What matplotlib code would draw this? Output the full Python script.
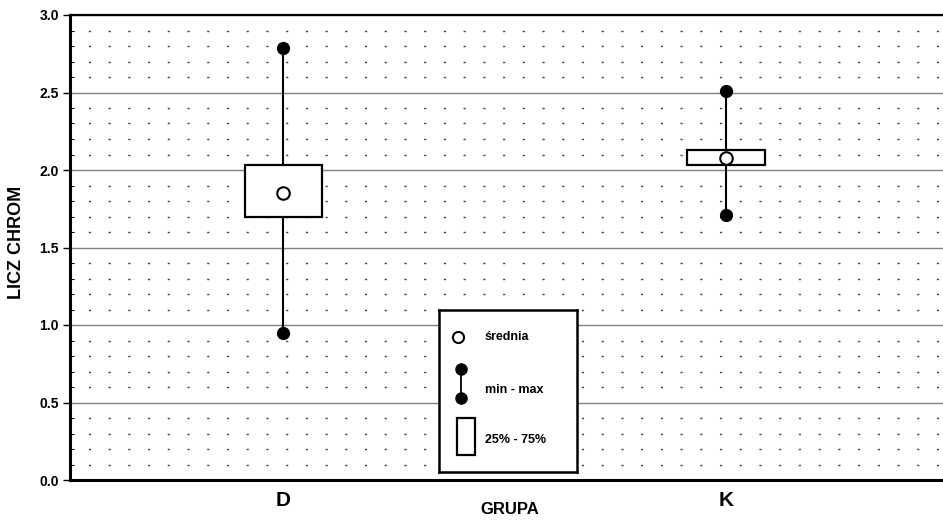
import matplotlib.pyplot as plt
from matplotlib.patches import Rectangle
from matplotlib.ticker import MultipleLocator
from matplotlib.lines import Line2D

plt.rcParams['font.family'] = ['Liberation Sans', 'DejaVu Sans']
plt.rcParams['lines.scale_dashes'] = False

# data
groups = ['D', 'K']
means = [1.85, 2.08]
q25 = [1.70, 2.03]
q75 = [2.03, 2.13]
mins = [0.95, 1.71]
maxs = [2.79, 2.51]

pos = [1, 2]
box_w = 0.174

fig = plt.figure(figsize=(9.43, 5.22), dpi=100)
ax = fig.add_axes([70 / 943, 42 / 522, 873 / 943, 465 / 522])

# grid: solid major lines, dotted minor rows
ax.set_ylim(0, 3.0)
ax.set_xlim(0.519, 2.49)
ax.yaxis.set_major_locator(MultipleLocator(0.5))
ax.yaxis.set_minor_locator(MultipleLocator(0.1))
ax.grid(axis='y', which='major', color='#808080', linewidth=1.0, zorder=0)
ax.grid(axis='y', which='minor', color='#444444', linewidth=1.0,
        linestyle=(1.0, (1.6, 12.6)), zorder=0)
ax.set_axisbelow(True)

# whiskers, boxes, markers
ax.vlines(pos, mins, maxs, color='black', linewidth=1.5, zorder=2)
ax.bar(pos, [b - a for a, b in zip(q25, q75)], bottom=q25, width=box_w,
       facecolor='white', edgecolor='black', linewidth=1.6, zorder=3)
ax.plot(pos, mins, 'o', color='black', markersize=8.5, zorder=4)
ax.plot(pos, maxs, 'o', color='black', markersize=8.5, zorder=4)
ax.plot(pos, means, 'o', markerfacecolor='white', markeredgecolor='black',
        markersize=9, markeredgewidth=1.5, zorder=5)

# axes styling
ax.spines['right'].set_visible(False)
ax.spines['left'].set_linewidth(2.2)
ax.spines['bottom'].set_linewidth(2.2)
ax.spines['top'].set_linewidth(1.6)

ax.set_xticks(pos)
ax.set_xticklabels(groups, fontsize=15, fontweight='bold')
ax.tick_params(axis='x', length=0, pad=8)
ax.tick_params(axis='y', which='major', direction='out', length=5, width=1,
               pad=3)
ax.tick_params(axis='y', which='minor', direction='in', length=3, width=0.8)
yt = [0.0, 0.5, 1.0, 1.5, 2.0, 2.5, 3.0]
ax.set_yticks(yt)
ax.set_yticklabels(['%.1f' % v for v in yt], fontweight='bold', fontsize=10)

ax.set_xlabel('GRUPA', fontsize=12, fontweight='bold')
ax.xaxis.set_label_coords(0.504, -0.048)
ax.set_ylabel('LICZ CHROM', fontsize=13, fontweight='bold')
ax.yaxis.set_label_coords(-0.0515, 0.51)

# legend box
lg = fig.add_axes([439 / 943, 1 - 472 / 522, 138 / 943, 162 / 522])
lg.set_xlim(0, 138)
lg.set_ylim(162, 0)
lg.set_xticks([])
lg.set_yticks([])
for s in lg.spines.values():
    s.set_linewidth(1.8)
lg.plot([19], [27], 'o', markerfacecolor='white', markeredgecolor='black',
        markersize=8, markeredgewidth=1.5)
lg.text(46, 27, 'średnia', fontsize=9, fontweight='bold', va='center')
lg.add_line(Line2D([22, 22], [59, 88], color='black', linewidth=1.3))
lg.plot([22, 22], [59, 88], 'o', color='black', markersize=8)
lg.text(46, 80, 'min - max', fontsize=9, fontweight='bold', va='center')
lg.add_patch(Rectangle((18, 108), 18, 37, facecolor='white',
                       edgecolor='black', linewidth=1.6))
lg.text(46, 130, '25% - 75%', fontsize=9, fontweight='bold', va='center')

fig.savefig('out.png', dpi=100)
